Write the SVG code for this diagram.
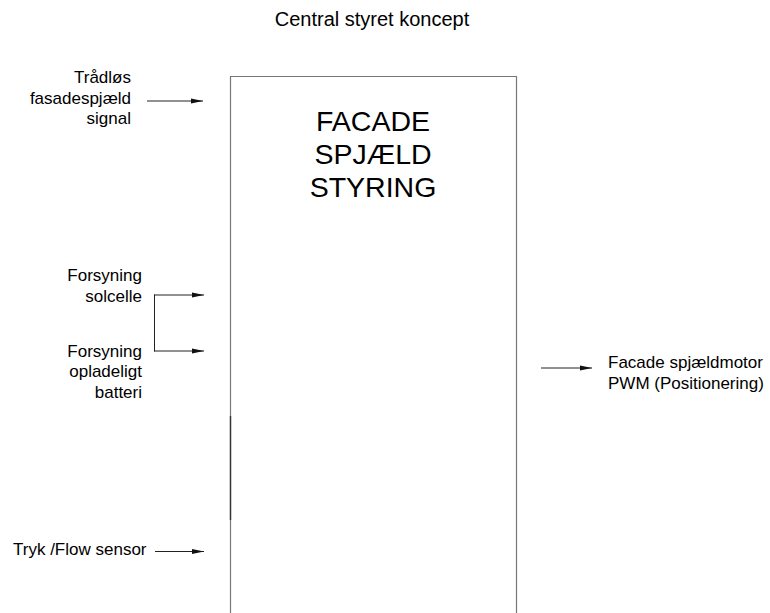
<svg xmlns="http://www.w3.org/2000/svg" width="770" height="613" viewBox="0 0 770 613">
<style>
text{font-family:"Liberation Sans",Arial,sans-serif;fill:#000}
.lbl{font-size:17px}
.big{font-size:28.5px;text-anchor:middle}
.r{text-anchor:end}
.ln{stroke:#222;stroke-width:1;fill:none}
</style>
<defs>
<marker id="ah" markerWidth="13" markerHeight="6" refX="12" refY="3" orient="auto" markerUnits="userSpaceOnUse">
<path d="M0,0.6 L12,3 L0,5.4 Z" fill="#111"/>
</marker>
</defs>
<rect width="770" height="613" fill="#fff"/>
<text id="title" x="372" y="26" font-size="20" text-anchor="middle">Central styret koncept</text>
<g id="box">
<path d="M230.5,613 V76.5 H516.5 V613" fill="none" stroke="#777" stroke-width="1.2"/>
<line x1="230.5" y1="416" x2="230.5" y2="520" stroke="#333" stroke-width="1.4"/>
<text class="big" x="373" y="130.5">FACADE</text>
<text class="big" x="373" y="164">SPJÆLD</text>
<text class="big" x="373" y="196.5">STYRING</text>
</g>
<g id="n-tradlos">
<text class="lbl r" x="131" y="83">Trådløs</text>
<text class="lbl r" x="131" y="103.5">fasadespjæld</text>
<text class="lbl r" x="131" y="124">signal</text>
</g>
<g id="n-solcelle">
<text class="lbl r" x="142" y="281">Forsyning</text>
<text class="lbl r" x="142" y="301.5">solcelle</text>
</g>
<g id="n-batteri">
<text class="lbl r" x="142" y="356.5">Forsyning</text>
<text class="lbl r" x="142" y="377">opladeligt</text>
<text class="lbl r" x="142" y="397.5">batteri</text>
</g>
<g id="n-motor">
<text class="lbl" x="608" y="368">Facade spjældmotor</text>
<text class="lbl" x="608" y="388.5">PWM (Positionering)</text>
</g>
<g id="n-tryk">
<text class="lbl" x="13" y="555">Tryk /Flow sensor</text>
</g>
<g id="connectors">
<line class="ln" x1="147" y1="101" x2="203" y2="101" marker-end="url(#ah)"/>
<line class="ln" x1="154.5" y1="294.5" x2="154.5" y2="351.5"/>
<line class="ln" x1="154" y1="295" x2="204" y2="295" marker-end="url(#ah)"/>
<line class="ln" x1="154" y1="351" x2="204" y2="351" marker-end="url(#ah)"/>
<line class="ln" x1="541" y1="368" x2="592" y2="368" marker-end="url(#ah)"/>
<line class="ln" x1="155" y1="551.5" x2="204" y2="551.5" marker-end="url(#ah)"/>
</g>
</svg>
